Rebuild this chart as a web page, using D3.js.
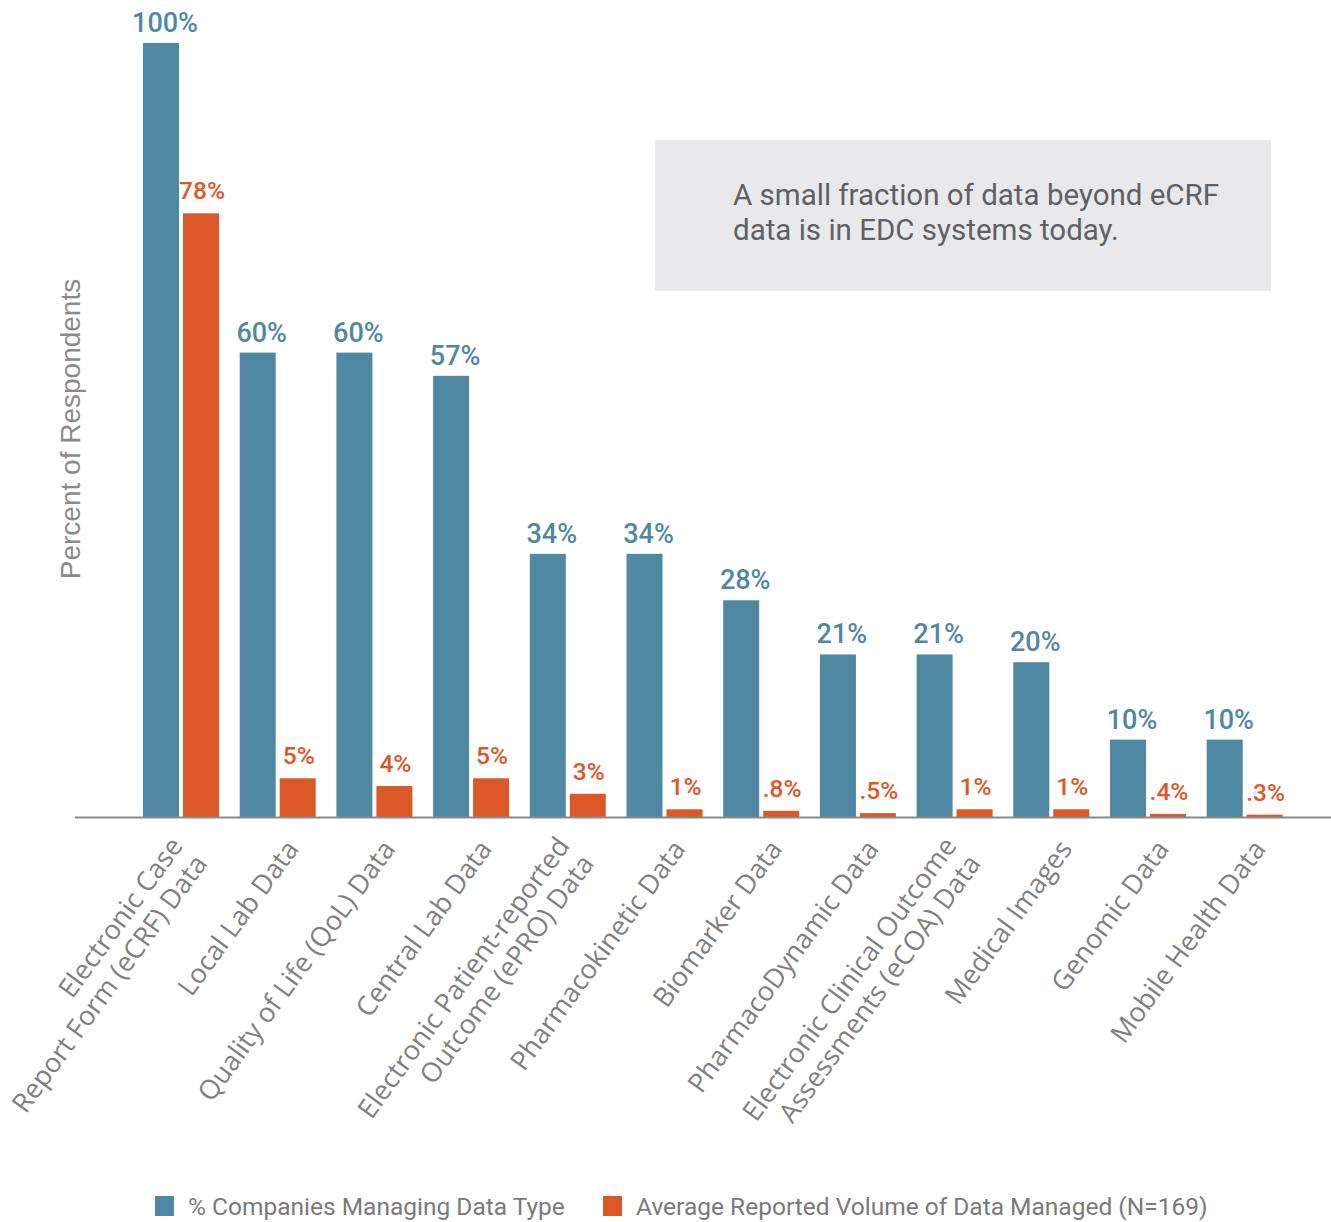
<!DOCTYPE html>
<html>
<head>
<meta charset="utf-8">
<script src="https://cdn.jsdelivr.net/npm/d3@7"></script>
<style>
  body { margin: 0; background: #fff; }
</style>
</head>
<body>
<div id="chart"></div>
<script>
// categories (lines of each axis label)
const categories = [
    ["Electronic Case", "Report Form (eCRF) Data"],
    ["Local Lab Data"],
    ["Quality of Life (QoL) Data"],
    ["Central Lab Data"],
    ["Electronic Patient-reported", "Outcome (ePRO) Data"],
    ["Pharmacokinetic Data"],
    ["Biomarker Data"],
    ["PharmacoDynamic Data"],
    ["Electronic Clinical Outcome", "Assessments (eCOA) Data"],
    ["Medical Images"],
    ["Genomic Data"],
    ["Mobile Health Data"]
];
const companiesPct = [100, 60, 60, 57, 34, 34, 28, 21, 21, 20, 10, 10];
const volumePct = [78, 5, 4, 5, 3, 1, 0.8, 0.5, 1, 1, 0.4, 0.3];
const companiesLabels = ["100%", "60%", "60%", "57%", "34%", "34%", "28%", "21%", "21%", "20%", "10%", "10%"];
const volumeLabels = ["78%", "5%", "4%", "5%", "3%", "1%", ".8%", ".5%", "1%", "1%", ".4%", ".3%"];
const seriesNames = ["% Companies Managing Data Type", "Average Reported Volume of Data Managed (N=169)"];

const colors = ["#4f88a2", "#dd5828"];
const W = 1331, H = 1222;

const svg = d3.select("#chart").append("svg")
    .attr("width", W)
    .attr("height", H);

const keys = categories.map((c, i) => i);

const x0 = d3.scaleBand()
    .domain(keys)
    .range([143, 1282.7])
    .paddingInner(0.214)
    .paddingOuter(0);

const x1 = d3.scaleBand()
    .domain([0, 1])
    .range([0, x0.bandwidth()])
    .paddingInner(0.1);

const y = d3.scaleLinear()
    .domain([0, 100])
    .range([817, 43]);

const rows = keys.map(i => ({
    i,
    values: [
        {s: 0, v: companiesPct[i], label: companiesLabels[i]},
        {s: 1, v: volumePct[i], label: volumeLabels[i]}
    ]
}));

const groups = svg.append("g").selectAll("g")
    .data(rows)
    .join("g")
    .attr("transform", d => `translate(${x0(d.i)},0)`);

groups.selectAll("rect")
    .data(d => d.values)
    .join("rect")
    .attr("x", d => x1(d.s))
    .attr("y", d => y(d.v))
    .attr("width", x1.bandwidth())
    .attr("height", d => y(0) - y(d.v))
    .attr("fill", d => colors[d.s]);

// value labels
groups.selectAll("text.val")
    .data(d => d.values)
    .join("text")
    .attr("class", "val")
    .attr("x", d => x1(d.s) + x1.bandwidth() / 2 + (d.s === 0 ? 4 : 1))
    .attr("y", d => y(d.v) - (d.s === 0 ? 11 : 14))
    .attr("text-anchor", "middle")
    .style("font-family", "Roboto")
    .style("font-weight", 500)
    .style("font-size", d => d.s === 0 ? "27px" : "24.5px")
    .style("fill", d => colors[d.s])
    .text(d => d.label);

// baseline
svg.append("line")
    .attr("x1", 75)
    .attr("x2", W)
    .attr("y1", y(0) + 0.5)
    .attr("y2", y(0) + 0.5)
    .attr("stroke", "#8a8a8a")
    .attr("stroke-width", 2);

// rotated category labels
const xl = svg.append("g").selectAll("text")
    .data(rows)
    .join("text")
    .attr("transform", d => {
        const cx = x0(d.i) + x0.bandwidth() / 2;
        const single = categories[d.i].length === 1;
        return `translate(${cx + (single ? 22 : 3)}, ${single ? 849 : 846}) rotate(-54)`;
    })
    .attr("text-anchor", "end")
    .style("font-family", "Open Sans")
    .style("font-size", "27px")
    .style("fill", "#808080");

xl.selectAll("tspan")
    .data(d => categories[d.i])
    .join("tspan")
    .attr("x", 0)
    .attr("dy", (d, j) => j === 0 ? 0 : 30)
    .text(d => d);

// y axis title
svg.append("text")
    .attr("transform", "translate(80, 429) rotate(-90)")
    .attr("text-anchor", "middle")
    .style("font-family", "Liberation Sans")
    .style("font-size", "28px")
    .style("fill", "#8a8a8a")
    .text("Percent of Respondents");

// callout box
svg.append("rect")
    .attr("x", 655)
    .attr("y", 140)
    .attr("width", 616)
    .attr("height", 151)
    .attr("fill", "#e9e9eb");

const note = ["A small fraction of data beyond eCRF", "data is in EDC systems today."];
svg.append("g").selectAll("text")
    .data(note)
    .join("text")
    .attr("x", 733)
    .attr("y", (d, i) => 205 + i * 35)
    .style("font-family", "Roboto")
    .style("font-size", "29.5px")
    .style("fill", "#5f6064")
    .text(d => d);

// legend
const legendX = [155, 603];
const leg = svg.append("g").selectAll("g")
    .data(seriesNames)
    .join("g")
    .attr("transform", (d, i) => `translate(${legendX[i]}, 1196)`);

leg.append("rect")
    .attr("width", 19)
    .attr("height", 20)
    .attr("fill", (d, i) => colors[i]);

leg.append("text")
    .attr("x", 33)
    .attr("y", 19)
    .style("font-family", "Roboto")
    .style("font-size", "24.5px")
    .style("fill", "#7a7a7a")
    .text(d => d);
</script>
</body>
</html>
